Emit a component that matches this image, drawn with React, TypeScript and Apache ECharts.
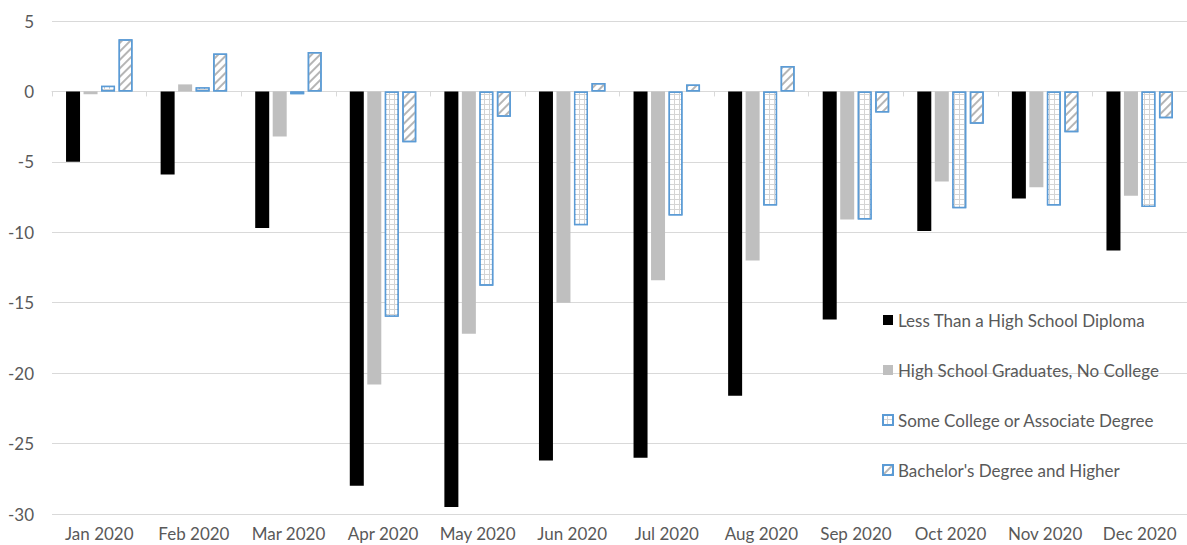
import React, { useEffect, useRef } from "react";
import * as echarts from "echarts";

const categories = ["Jan 2020", "Feb 2020", "Mar 2020", "Apr 2020", "May 2020", "Jun 2020", "Jul 2020", "Aug 2020", "Sep 2020", "Oct 2020", "Nov 2020", "Dec 2020"];
const lessThanHS = [-5.0, -5.9, -9.7, -28.0, -29.5, -26.2, -26.0, -21.6, -16.2, -9.9, -7.6, -11.3];
const hsGrad = [-0.2, 0.5, -3.2, -20.8, -17.2, -15.0, -13.4, -12.0, -9.1, -6.4, -6.8, -7.4];
const someCollege = [0.4, 0.3, -0.2, -16.0, -13.8, -9.5, -8.8, -8.1, -9.1, -8.3, -8.1, -8.2];
const bachelors = [3.7, 2.7, 2.8, -3.6, -1.8, 0.6, 0.5, 1.8, -1.5, -2.3, -2.9, -1.9];
const seriesNames = ["Less Than a High School Diploma", "High School Graduates, No College", "Some College or Associate Degree", "Bachelor's Degree and Higher"];

const FONT = "Lato, 'Noto Sans', sans-serif";
const TEXT = "#595959";

export default function App() {
  const ref = useRef<HTMLDivElement>(null);
  useEffect(() => {
    if (!ref.current) return;
    const chart = echarts.init(ref.current, undefined, { renderer: "svg" });
    const blue = "#5B9BD5";
    const barW = 14;
    const common = { type: "bar", barWidth: barW, barGap: "25%", xAxisIndex: 0 };
    chart.setOption({
      animation: false,
      backgroundColor: "#fff",
      textStyle: { fontFamily: FONT },
      grid: { left: 52, right: -8, top: 21, bottom: 31 },
      legend: {
        orient: "vertical",
        left: 877,
        top: 305,
        itemWidth: 10,
        itemHeight: 10,
        itemGap: 30,
        icon: "rect",
        textStyle: { fontFamily: FONT, fontSize: 17, color: TEXT, lineHeight: 20, padding: [0, 0, 0, 0] },
        data: seriesNames,
      },
      xAxis: [
        {
          type: "category",
          data: categories,
          position: "bottom",
          axisLine: { show: false, onZero: false },
          axisTick: { show: false },
          axisLabel: { color: TEXT, fontSize: 17, fontFamily: FONT, margin: 11, interval: 0, hideOverlap: false },
          splitLine: { show: false },
        },
        {
          type: "category",
          data: categories,
          position: "bottom",
          axisLine: { show: true, onZero: true, lineStyle: { color: "#D9D9D9", width: 1 } },
          axisTick: { show: true, length: 5, lineStyle: { color: "#D9D9D9" } },
          axisLabel: { show: false },
          splitLine: { show: false },
        },
      ],
      yAxis: {
        type: "value",
        min: -30,
        max: 5,
        interval: 5,
        axisLine: { show: false },
        axisTick: { show: false },
        axisLabel: { color: TEXT, fontSize: 17, fontFamily: FONT, margin: 18 },
        splitLine: { lineStyle: { color: "#D9D9D9", width: 1 } },
      },
      series: [
        { ...common, name: seriesNames[0], data: lessThanHS, itemStyle: { color: "#000000" } },
        { ...common, name: seriesNames[1], data: hsGrad, itemStyle: { color: "#BFBFBF" } },
        {
          ...common,
          name: seriesNames[2],
          data: someCollege,
          itemStyle: {
            color: "#D4D4D4",
            borderColor: blue,
            borderWidth: 1.5,
            decal: { symbol: "rect", symbolSize: 1, color: "#ffffff", dashArrayX: [3.2, 0.9], dashArrayY: [3.2, 0.9], rotation: 0 },
          },
        },
        {
          ...common,
          name: seriesNames[3],
          data: bachelors,
          itemStyle: {
            color: "#ffffff",
            borderColor: blue,
            borderWidth: 1.5,
            decal: { symbol: "rect", symbolSize: 1, color: "#B5B5B5", dashArrayX: [1, 0], dashArrayY: [1.4, 3.6], rotation: -Math.PI / 4 },
          },
        },
      ],
    });
    return () => chart.dispose();
  }, []);
  return <div ref={ref} style={{ position: "fixed", left: 0, top: 0, width: 1187, height: 545 }} />;
}
